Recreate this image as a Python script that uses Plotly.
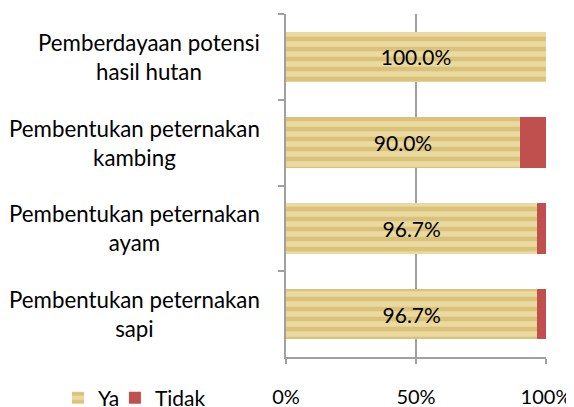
import plotly.graph_objects as go

categories = ["Pemberdayaan potensi<br>hasil hutan", "Pembentukan peternakan<br>kambing",
              "Pembentukan peternakan<br>ayam", "Pembentukan peternakan<br>sapi"]
ya = [100.0, 90.0, 96.7, 96.7]
tidak = [0.0, 10.0, 3.3, 3.3]
x_ticks = [0, 50, 100]
x_tick_labels = ["0%", "50%", "100%"]

FONT = "Lato"
FS = 21
fig = go.Figure()
fig.add_trace(go.Bar(
    y=categories, x=ya, name="Ya", orientation="h", legend="legend",
    marker=dict(color="#E3CB7E", line=dict(width=0),
                pattern=dict(shape="-", fgcolor="#C9AC55", bgcolor="#EAD9A0", size=10, solidity=0.45)),
    text=[f"{v:.1f}%" for v in ya], textposition="inside", insidetextanchor="middle",
    textfont=dict(family=FONT, size=FS, color="#000000"),
))
fig.add_trace(go.Bar(
    y=categories, x=tidak, name="Tidak", orientation="h", legend="legend2",
    marker=dict(color="#C0504D", line=dict(width=0)),
))
for c in categories:
    fig.add_annotation(x=-0.092, xref="paper", y=c, yref="y", text=c, showarrow=False,
                       align="center", xanchor="right", yanchor="middle",
                       font=dict(family=FONT, size=22.3, color="#000000"))
leg = dict(orientation="h", y=-0.12, yanchor="middle", xanchor="left",
           font=dict(family=FONT, size=FS), itemwidth=30, bgcolor="rgba(0,0,0,0)")
fig.update_layout(
    barmode="stack", bargap=0.41,
    width=574, height=407,
    margin=dict(l=278, r=36, t=6, b=58, autoexpand=False),
    paper_bgcolor="white", plot_bgcolor="white",
    font=dict(family=FONT, size=FS, color="#000000"),
    showlegend=True,
    legend=dict(leg, x=-0.877),
    legend2=dict(leg, x=-0.658),
    xaxis=dict(range=[0, 100], tickvals=x_ticks, ticktext=x_tick_labels,
               showgrid=True, gridcolor="#A0A0A0", gridwidth=1.5,
               showline=True, linecolor="#A0A0A0", linewidth=1.5,
               ticks="outside", ticklen=5, tickcolor="#A0A0A0", tickwidth=1.5,
               zeroline=False, automargin=False, ticklabelstandoff=16,
               tickfont=dict(family=FONT, size=20)),
    yaxis=dict(autorange="reversed", showline=True, linecolor="#A0A0A0", linewidth=1.5,
               ticks="outside", ticklen=6, tickcolor="#A0A0A0", tickwidth=1.5,
               tickson="boundaries", showgrid=False, showticklabels=False, automargin=False),
)
fig.write_html("out.html")
